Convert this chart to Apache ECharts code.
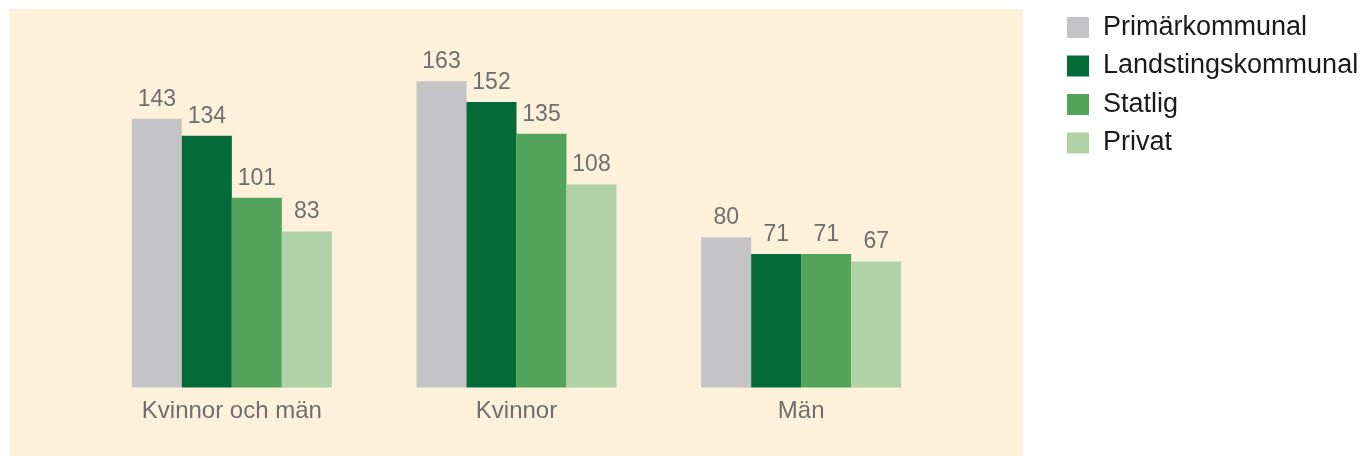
<!DOCTYPE html>
<html>
<head>
<meta charset="utf-8">
<script src="https://cdn.jsdelivr.net/npm/echarts@6/dist/echarts.min.js"></script>
<style>
html,body{margin:0;padding:0;background:#ffffff;}
#chart{width:1368px;height:456px;}
</style>
</head>
<body>
<div id="chart"></div>
<script>
var categories = ['Kvinnor och män', 'Kvinnor', 'Män'];
var seriesNames = ['Primärkommunal', 'Landstingskommunal', 'Statlig', 'Privat'];
var primarkommunal = [143, 163, 80];
var landstingskommunal = [134, 152, 71];
var statlig = [101, 135, 71];
var privat = [83, 108, 67];
var seriesColors = ['#c4c4c6', '#046b38', '#52a35c', '#b0d2a6'];
var seriesData = [primarkommunal, landstingskommunal, statlig, privat];

var FONT = '"Liberation Sans", Arial, Helvetica, sans-serif';
var chart = echarts.init(document.getElementById('chart'), null, {renderer: 'canvas'});

var series = seriesNames.map(function (name, i) {
  return {
    name: name,
    type: 'bar',
    data: seriesData[i],
    barWidth: 50,
    barGap: '0%',
    itemStyle: {color: seriesColors[i]},
    label: {
      show: true,
      position: 'top',
      distance: 8,
      color: '#6e6e6e',
      fontSize: 23,
      fontFamily: FONT
    },
    emphasis: {disabled: true}
  };
});

chart.setOption({
  animation: false,
  backgroundColor: '#ffffff',
  graphic: [{
    type: 'rect',
    z: -10,
    silent: true,
    shape: {x: 9, y: 9, width: 1014, height: 447},
    style: {fill: '#fef1dc'}
  }],
  legend: {
    orient: 'vertical',
    left: 1067,
    top: 14,
    padding: 0,
    itemWidth: 22,
    itemHeight: 21,
    itemGap: 11.5,
    icon: 'rect',
    selectedMode: false,
    data: seriesNames,
    textStyle: {
      color: '#1a1a1a',
      fontSize: 27,
      lineHeight: 26,
      fontFamily: FONT,
      padding: [0, 0, 0, 9]
    }
  },
  grid: {
    left: 89.5,
    right: 424.5,
    top: 11.7,
    bottom: 68.5,
    containLabel: false
  },
  xAxis: {
    type: 'category',
    data: categories,
    axisLine: {show: false},
    axisTick: {show: false},
    axisLabel: {
      color: '#6e6e6e',
      fontSize: 24,
      fontFamily: FONT,
      margin: 12
    }
  },
  yAxis: {
    type: 'value',
    min: 0,
    max: 200,
    show: false,
    splitLine: {show: false}
  },
  series: series
});
</script>
</body>
</html>
